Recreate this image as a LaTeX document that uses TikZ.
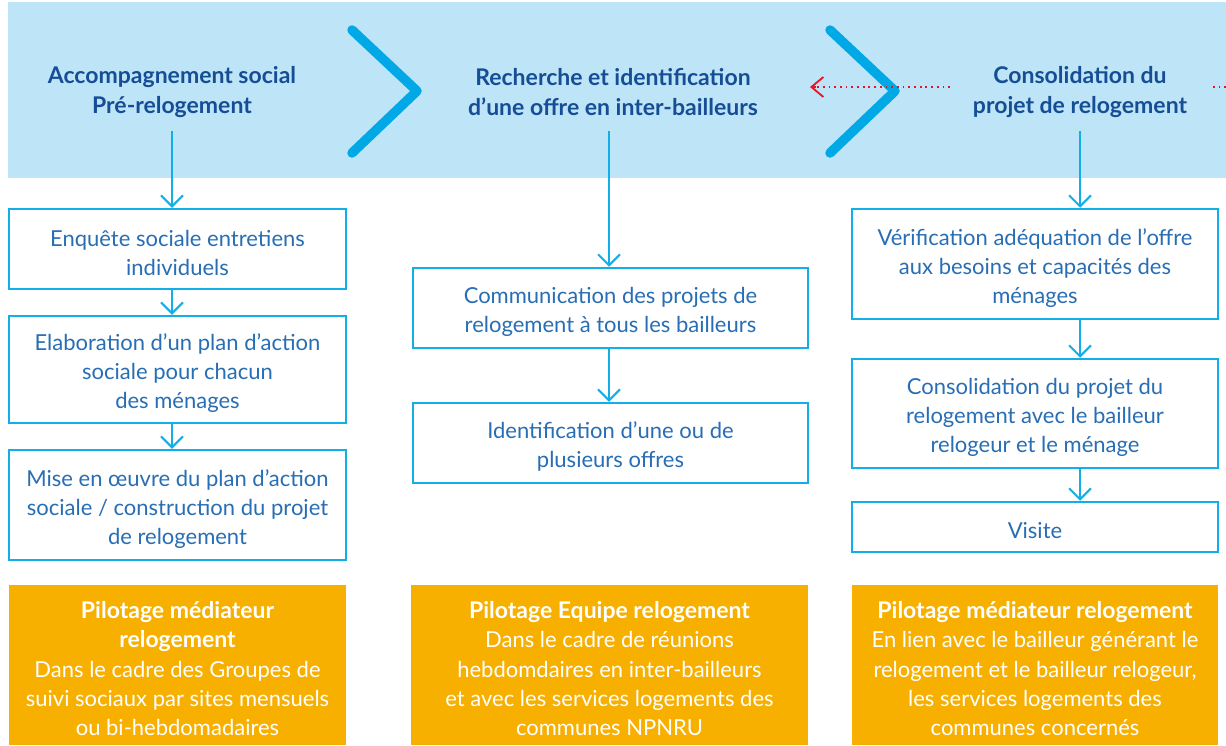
\documentclass[tikz,border=0pt]{standalone}
\usepackage{fontspec}
\setmainfont{Lato}
\usetikzlibrary{arrows.meta,calc}
\definecolor{band}{RGB}{190,228,248}
\definecolor{chev}{RGB}{0,169,230}
\definecolor{ttl}{RGB}{22,78,150}
\definecolor{txt}{RGB}{40,110,180}
\definecolor{bord}{RGB}{18,174,232}
\definecolor{orng}{RGB}{247,175,0}
\definecolor{redd}{RGB}{230,20,40}
\newcommand{\obold}[1]{{\fontsize{23}{29.2}\selectfont\bfseries #1}}
\begin{document}
\begin{tikzpicture}[x=1pt,y=-1pt,
  stepbox/.style={draw=bord, line width=2.5pt, fill=white, inner sep=0pt},
  boxtxt/.style={align=center, text=txt, font=\fontsize{22}{29}\selectfont, inner sep=0pt, yshift=-3.7pt},
  headtxt/.style={align=center, text=ttl, font=\fontsize{23}{30}\selectfont\bfseries, inner sep=0pt},
  obox/.style={fill=orng, inner sep=0pt, minimum width=#1},
  otxt/.style={align=center, text=white, font=\fontsize{22}{29.2}\selectfont, inner sep=0pt, anchor=north},
  arr/.style={draw=bord, line width=2pt, -{Straight Barb[length=11pt,width=22pt,line width=2pt]}},
  chevron/.style={draw=chev, line width=9.5pt, line cap=round, line join=round},
  reddots/.style={draw=redd, line width=1.8pt, dash pattern=on 1.8pt off 3.9pt}
]
\useasboundingbox (0,0) rectangle (1226,745);
\fill[band] (8,2) rectangle (1226,178);
% chevrons
\draw[chevron] (352,30) -- (417,91) -- (352,153);
\draw[chevron] (830,30) -- (895,91) -- (830,153);
% red dotted arrows
\coordinate (r1s) at (950,87);
\coordinate (r1e) at (810,87);
\coordinate (r2s) at (1226,87);
\coordinate (r2e) at (1210,87);
\draw[reddots] (r1s) -- ($(r1e)+(3,0)$);
\draw[redd, line width=1.8pt, -{Straight Barb[length=12pt,width=20pt,line width=1.8pt]}] ($(r1e)+(6,0)$) -- (r1e);
\draw[reddots] (r2s) -- (r2e);
% headers
\node[headtxt] (h1) at (172,92.5) {Accompagnement social\\Pré-relogement};
\node[headtxt] (h2) at (613,92.5) {Recherche et identification\\d’une offre en inter-bailleurs};
\node[headtxt] (h3) at (1080,92.5) {Consolidation du\\projet de relogement};
% left column
\node[stepbox, minimum width=337pt, minimum height=80pt, label={[boxtxt]center:{Enquête sociale entretiens\\individuels}}] (b1) at (177.5,249) {};
\node[stepbox, minimum width=337pt, minimum height=107pt, label={[boxtxt]center:{Elaboration d’un plan d’action\\sociale pour chacun\\des ménages}}] (b2) at (177.5,369.5) {};
\node[stepbox, minimum width=337pt, minimum height=110pt, label={[boxtxt]center:{Mise en œuvre du plan d’action\\sociale / construction du projet\\de relogement}}] (b3) at (177.5,505) {};
% middle column
\node[stepbox, minimum width=395pt, minimum height=80pt, label={[boxtxt]center:{Communication des projets de\\relogement à tous les bailleurs}}] (m1) at (610.5,308) {};
\node[stepbox, minimum width=395pt, minimum height=80pt, label={[boxtxt]center:{Identification d’une ou de\\plusieurs offres}}] (m2) at (610.5,443) {};
% right column
\node[stepbox, minimum width=366pt, minimum height=110pt, label={[boxtxt]center:{Vérification adéquation de l’offre\\aux besoins et capacités des\\ménages}}] (c1) at (1035,264) {};
\node[stepbox, minimum width=366pt, minimum height=109pt, label={[boxtxt]center:{Consolidation du projet du\\relogement avec le bailleur\\relogeur et le ménage}}] (c2) at (1035,413.5) {};
\node[stepbox, minimum width=366pt, minimum height=50pt, label={[boxtxt]center:{Visite}}] (c3) at (1035,527) {};
% arrows
\coordinate (a1) at (172,131);
\coordinate (a2) at (609,131);
\coordinate (a3) at (1080,131);
\draw[arr] (a1) -- (a1 |- b1.north);
\draw[arr] (a1 |- b1.south) -- (a1 |- b2.north);
\draw[arr] (a1 |- b2.south) -- (a1 |- b3.north);
\draw[arr] (a2) -- (a2 |- m1.north);
\draw[arr] (a2 |- m1.south) -- (a2 |- m2.north);
\draw[arr] (a3) -- (a3 |- c1.north);
\draw[arr] (a3 |- c1.south) -- (a3 |- c2.north);
\draw[arr] (a3 |- c2.south) -- (a3 |- c3.north);
% orange boxes
\node[obox=337pt, minimum height=160pt] (o1) at (177.5,665) {};
\node[obox=397pt, minimum height=160pt] (o2) at (609.5,665) {};
\node[obox=366pt, minimum height=160pt] (o3) at (1035,665) {};
\node[otxt] (t1) at ([yshift=-16.5pt]o1.north) {\obold{Pilotage médiateur}\\\obold{relogement}\\Dans le cadre des Groupes de\\suivi sociaux par sites mensuels\\ou bi-hebdomadaires};
\node[otxt] (t2) at ([yshift=-16.5pt]o2.north) {\obold{Pilotage Equipe relogement}\\Dans le cadre de réunions\\hebdomdaires en inter-bailleurs\\et avec les services logements des\\communes NPNRU};
\node[otxt] (t3) at ([yshift=-16.5pt]o3.north) {\obold{Pilotage médiateur relogement}\\En lien avec le bailleur générant le\\relogement et le bailleur relogeur,\\les services logements des\\communes concernés};
\end{tikzpicture}
\end{document}
